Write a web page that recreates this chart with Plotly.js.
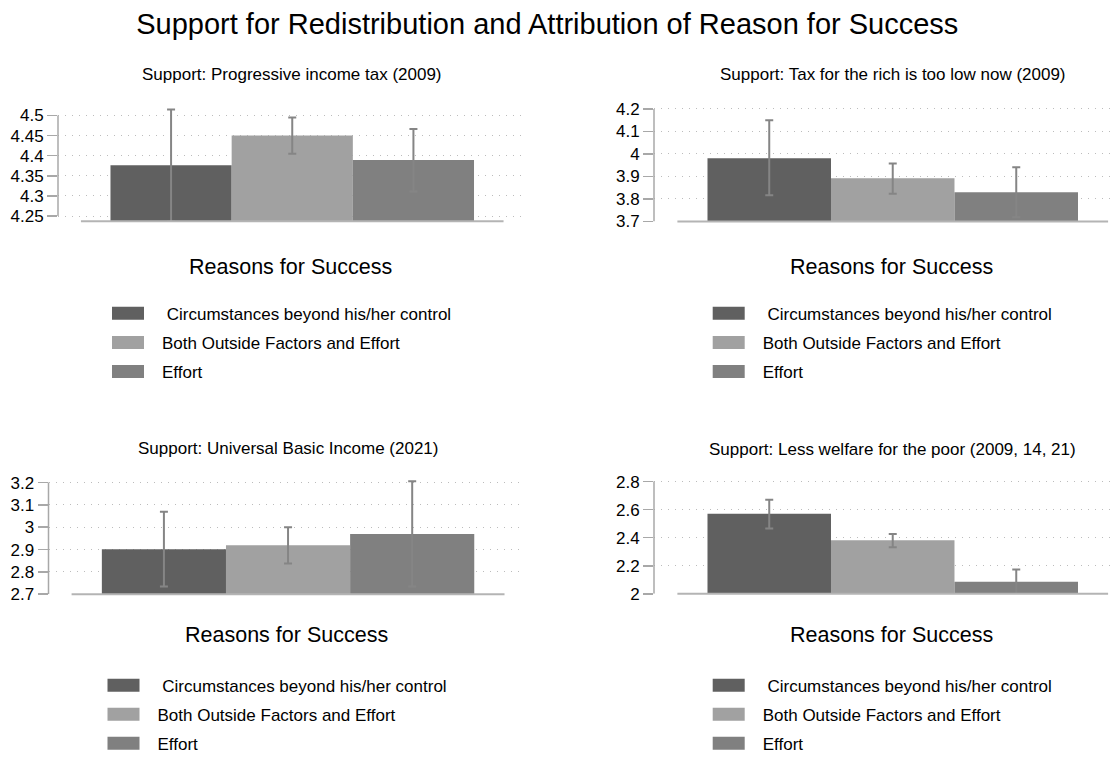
<!DOCTYPE html>
<html><head><meta charset="utf-8">
<script src="https://cdn.plot.ly/plotly-3.0.1.min.js"></script>
<style>html,body{margin:0;padding:0;background:#fff}#chart{width:1120px;height:762px}</style>
</head><body><div id="chart"></div>
<script>
// ---- data ----
const categories = ['\u00a0Circumstances beyond his/her control', 'Both Outside Factors and Effort', 'Effort'];
const panelTitles = ['Support: Progressive income tax (2009)', 'Support: Tax for the rich is too low now (2009)',
                     'Support: Universal Basic Income (2021)', 'Support: Less welfare for the poor (2009, 14, 21)'];
const legendTitle = 'Reasons for Success';
const mainTitle = 'Support for Redistribution and Attribution of Reason for Success';

const meansProgTax  = [4.376, 4.450, 4.389];
const ciLowProgTax  = [4.236, 4.405, 4.311];
const ciHighProgTax = [4.515, 4.495, 4.466];

const meansRichTax  = [3.981, 3.892, 3.830];
const ciLowRichTax  = [3.816, 3.823, 3.719];
const ciHighRichTax = [4.150, 3.958, 3.941];

const meansUBI  = [2.901, 2.919, 2.970];
const ciLowUBI  = [2.734, 2.837, 2.734];
const ciHighUBI = [3.069, 3.000, 3.206];

const meansWelfare  = [2.570, 2.381, 2.086];
const ciLowWelfare  = [2.465, 2.332, 1.999];
const ciHighWelfare = [2.671, 2.426, 2.173];

const ticksProgTax = [4.25, 4.3, 4.35, 4.4, 4.45, 4.5];
const tickTextProgTax = ['4.25', '4.3', '4.35', '4.4', '4.45', '4.5'];
const ticksRichTax = [3.7, 3.8, 3.9, 4.0, 4.1, 4.2];
const tickTextRichTax = ['3.7', '3.8', '3.9', '4', '4.1', '4.2'];
const ticksUBI = [2.7, 2.8, 2.9, 3.0, 3.1, 3.2];
const tickTextUBI = ['2.7', '2.8', '2.9', '3', '3.1', '3.2'];
const ticksWelfare = [2.0, 2.2, 2.4, 2.6, 2.8];
const tickTextWelfare = ['2', '2.2', '2.4', '2.6', '2.8'];

// ---- styles / layout ----
const barColors = ['#606060', '#a1a1a1', '#808080'];
const FONT = 'Liberation Sans, Arial, Helvetica, sans-serif';
const W = 1120, H = 762;
const px = v => v / W, py = v => 1 - v / H;

const panels = [
  {means: meansProgTax, lo: ciLowProgTax, hi: ciHighProgTax, ticks: ticksProgTax, tt: tickTextProgTax,
   box: {l: 58, r: 522, t: 108, b: 224.7}, yr: [4.2373, 4.5227], xr: [-0.5155, 0.5056],
   cx: 292.3, titleY: 75.5, reasonsY: 271.3, legX: 94, legY: 300.5},
  {means: meansRichTax, lo: ciLowRichTax, hi: ciHighRichTax, ticks: ticksRichTax, tt: tickTextRichTax,
   box: {l: 654, r: 1115, t: 108, b: 225}, yr: [3.7, 4.2118], xr: [-0.5155, 0.4799],
   cx: 892.8, titleY: 75.5, reasonsY: 271.3, legX: 694.7, legY: 300.5},
  {means: meansUBI, lo: ciLowUBI, hi: ciHighUBI, ticks: ticksUBI, tt: tickTextUBI,
   box: {l: 48.5, r: 525, t: 487, b: 603.7}, yr: [2.7, 3.2146], xr: [-0.5146, 0.509],
   cx: 288, titleY: 455.5, reasonsY: 645, legX: 89.5, legY: 678.3},
  {means: meansWelfare, lo: ciLowWelfare, hi: ciHighWelfare, ticks: ticksWelfare, tt: tickTextWelfare,
   box: {l: 654, r: 1115, t: 487, b: 603.3}, yr: [2.0, 2.8162], xr: [-0.5155, 0.4799],
   cx: 892.8, titleY: 456.5, reasonsY: 645, legX: 694.7, legY: 678.3}
];

const traces = [];
const layout = {
  width: W, height: H,
  margin: {l: 0, r: 0, t: 0, b: 0},
  paper_bgcolor: '#ffffff', plot_bgcolor: '#ffffff',
  font: {family: FONT, color: '#000000', size: 17},
  barmode: 'group', bargap: 0.2, bargroupgap: 0,
  title: {text: mainTitle, font: {family: FONT, size: 29, color: '#000000'},
          x: px(547.3), xanchor: 'center', xref: 'paper', y: py(24), yanchor: 'middle', yref: 'paper'},
  annotations: [], shapes: []
};

panels.forEach((p, i) => {
  const n = i === 0 ? '' : String(i + 1);
  const xa = 'x' + n, ya = 'y' + n;
  const legId = 'legend' + n;
  categories.forEach((c, k) => {
    traces.push({
      type: 'bar', name: c, x: [panelTitles[i]], y: [p.means[k]],
      xaxis: xa, yaxis: ya, legend: legId, legendgroup: 'p' + i + 'c' + k,
      marker: {color: barColors[k], line: {width: 0}},
      error_y: {type: 'data', symmetric: false,
                array: [p.hi[k] - p.means[k]], arrayminus: [p.means[k] - p.lo[k]],
                color: '#858585', thickness: 2, width: 4},
      hoverinfo: 'skip'
    });
  });
  layout['xaxis' + n] = {
    domain: [px(p.box.l), px(p.box.r)], anchor: ya, type: 'category', range: p.xr,
    showticklabels: false, showgrid: false, zeroline: false, showline: false, ticks: '', fixedrange: true
  };
  layout['yaxis' + n] = {
    domain: [py(p.box.b), py(p.box.t)], anchor: xa, range: p.yr,
    tickmode: 'array', tickvals: p.ticks, ticktext: p.tt,
    ticks: 'outside', ticklen: 10, tickwidth: 1.5, tickcolor: '#a8a8a8',
    tickfont: {family: FONT, size: 17, color: '#000000'},
    showgrid: true, gridcolor: '#bcbcbc', gridwidth: 1, griddash: '1px,6px',
    zeroline: false, showline: false, fixedrange: true
  };
  layout[legId] = {
    x: px(p.legX), xanchor: 'left', xref: 'paper',
    y: py(p.legY), yanchor: 'top', yref: 'paper',
    bgcolor: 'rgba(0,0,0,0)', borderwidth: 0,
    font: {family: FONT, size: 17, color: '#000000'},
    itemwidth: 58, tracegroupgap: 4, traceorder: 'grouped', orientation: 'v'
  };
  // y axis line between first and last tick
  layout.shapes.push({type: 'line', xref: xa + ' domain', yref: ya,
    x0: 0, x1: 0, y0: Math.min(...p.ticks), y1: Math.max(...p.ticks),
    line: {color: '#a8a8a8', width: 1.5}, layer: 'above'});
  // baseline of the bar region
  layout.shapes.push({type: 'line', xref: xa, yref: ya + ' domain',
    x0: -0.465, x1: 0.465, y0: 0, y1: 0,
    line: {color: '#b4b4b4', width: 2}, layer: 'above'});
  layout.annotations.push({text: panelTitles[i], xref: 'paper', yref: 'paper',
    x: px(p.cx), y: py(p.titleY), xanchor: 'center', yanchor: 'middle', showarrow: false,
    font: {family: FONT, size: 17, color: '#000000'}});
  layout.annotations.push({text: legendTitle, xref: 'paper', yref: 'paper',
    x: px(p.cx - 1.5), y: py(p.reasonsY), xanchor: 'center', yanchor: 'middle', showarrow: false,
    font: {family: FONT, size: 21.5, color: '#000000'}});
});

Plotly.newPlot('chart', traces, layout, {staticPlot: true, displayModeBar: false}).then(gd => {
  // widen the legend swatches to the wide rectangles of the original
  gd.querySelectorAll('.legendpoints path').forEach(el => {
    el.setAttribute('d', 'M16,6.5H-16V-6.5H16Z');
  });
});
</script>
</body></html>
